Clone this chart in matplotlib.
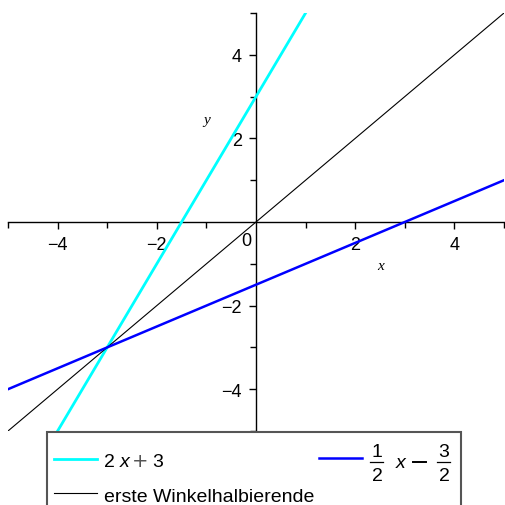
import matplotlib
matplotlib.use("Agg")
import matplotlib.pyplot as plt
from matplotlib.ticker import FixedLocator
from matplotlib.patches import Rectangle
from matplotlib.lines import Line2D

plt.rcParams["font.family"] = ["Liberation Sans", "DejaVu Sans"]
plt.rcParams["axes.unicode_minus"] = True

# Line endpoints across the x range
x_range = [-5, 5]
y_steep = [-7, 13]        # 2x + 3
y_flat = [-4, 1]          # x/2 - 3/2
y_diag = [-5, 5]          # y = x

legend_diag = "erste Winkelhalbierende"
major_ticks = [-4, -2, 2, 4]
minor_ticks = [-5, -3, -1, 1, 3, 5]

CYAN = "#00FFFF"
BLUE = "#0000FF"

W = H = 506
fig = plt.figure(figsize=(W / 100, H / 100), dpi=100)
ax = fig.add_axes([8 / W, 74 / H, 496 / W, 418 / H])
ax.set_xlim(-5, 5)
ax.set_ylim(-5, 5)

ax.plot(x_range, y_steep, color=CYAN, lw=2.0)
ax.plot(x_range, y_diag, color="black", lw=0.8)
ax.plot(x_range, y_flat, color=BLUE, lw=1.8)

for s in ("top", "right"):
    ax.spines[s].set_visible(False)
ax.spines["left"].set_position("zero")
ax.spines["bottom"].set_position("zero")
for s in ("left", "bottom"):
    ax.spines[s].set_linewidth(1.0)
    ax.spines[s].set_zorder(0)

ax.xaxis.set_major_locator(FixedLocator(major_ticks))
ax.yaxis.set_major_locator(FixedLocator(major_ticks))
ax.xaxis.set_minor_locator(FixedLocator(minor_ticks))
ax.yaxis.set_minor_locator(FixedLocator(minor_ticks))
ax.tick_params(which="major", direction="out", length=5, width=1.0, labelsize=13)
ax.tick_params(which="minor", direction="out", length=4, width=1.0)
ax.tick_params(axis="x", which="major", pad=5)
ax.tick_params(axis="y", which="major", pad=5)

ax.text(-0.19, -0.44, "0", fontsize=13, ha="center", va="center")
ax.text(2.52, -1.05, "x", fontsize=11, family="Liberation Serif", style="italic",
        ha="center", va="center")
ax.text(-1.0, 2.46, "y", fontsize=11, family="Liberation Serif", style="italic",
        ha="center", va="center")


# ---- legend box (pixel layout, measured from the top-left corner) ----
def fx(px):
    return px / W


def fy(py):
    return 1 - py / H


def ftext(px, py, s, **kw):
    kw.setdefault("fontsize", 14)
    kw.setdefault("va", "baseline")
    fig.text(fx(px), fy(py), s, **kw)


fig.add_artist(Rectangle((fx(47), fy(530)), fx(461) - fx(47), fy(433) - fy(530),
                         transform=fig.transFigure, facecolor="white",
                         edgecolor="#555555", lw=1.5, zorder=5))


def key(x0, x1, y, color, lw):
    fig.add_artist(Line2D([fx(x0), fx(x1)], [fy(y), fy(y)], transform=fig.transFigure,
                          color=color, lw=lw, zorder=6))


key(54, 97, 460, CYAN, 2.0)
key(54, 97, 494, "black", 0.8)
key(319, 362, 459, BLUE, 1.8)

z = dict(zorder=7)
# 2 x + 3
ftext(104, 467, "2", **z)
ftext(120, 467, "x", style="italic", **z)
ftext(140, 467, "+", family="DejaVu Sans", color="#555555", ha="center", **z)
ftext(152, 467, "3", **z)
# erste Winkelhalbierende
ftext(104, 502, legend_diag, **z)


# 1/2 x - 3/2
def frac(xc, num, den):
    ftext(xc, 457, num, ha="center", **z)
    ftext(xc, 481, den, ha="center", **z)
    fig.add_artist(Line2D([fx(xc - 6.5), fx(xc + 6.5)], [fy(463), fy(463)],
                          transform=fig.transFigure, color="black", lw=0.9, zorder=7))


frac(377, "1", "2")
ftext(396, 468, "x", style="italic", **z)
fig.add_artist(Line2D([fx(413), fx(426)], [fy(463), fy(463)], transform=fig.transFigure,
                      color="black", lw=1.4, zorder=7))
frac(444, "3", "2")

fig.savefig("out.png", dpi=100)
